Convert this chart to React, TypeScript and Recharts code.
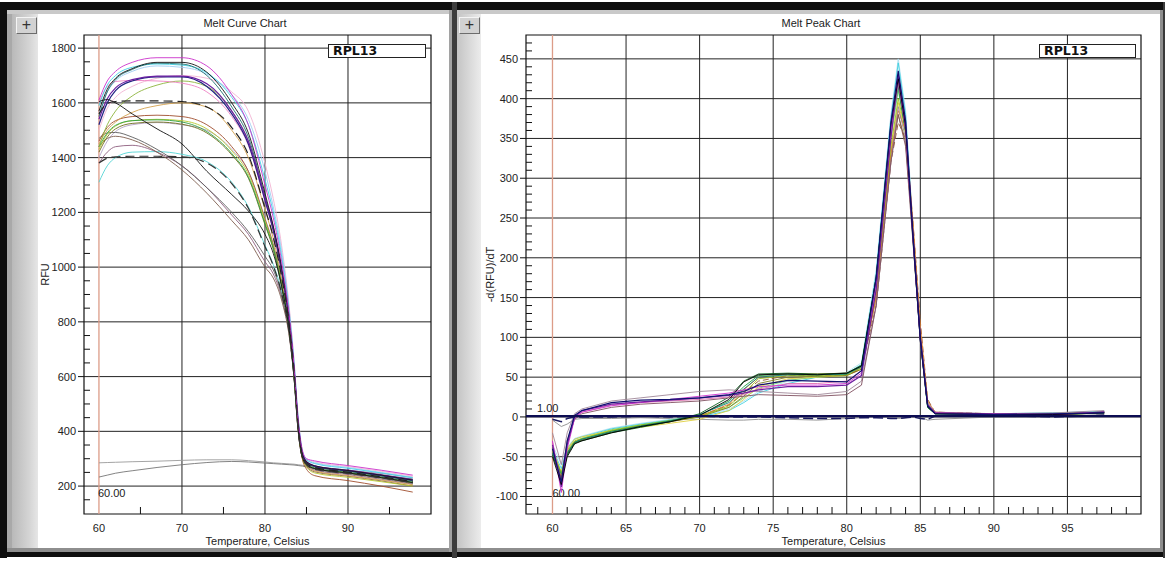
import { LineChart, Line, XAxis, YAxis, CartesianGrid, ReferenceLine, ReferenceArea } from "recharts";

// ---- Melt curve (RFU vs temperature) ----
const MELT_TEMPS = [60, 61, 62, 64, 67, 70, 73, 76, 78, 80, 81, 82, 83, 83.5, 84, 84.5, 85, 86, 90, 94, 97.8];

const meltA01 = [1610, 1680, 1715, 1748, 1765, 1765, 1735, 1630, 1520, 1300, 1180, 1020, 800, 640, 440, 330, 300, 292, 275, 258, 240];
const meltA02 = [1570, 1650, 1690, 1725, 1748, 1748, 1712, 1600, 1490, 1270, 1150, 1000, 790, 630, 430, 322, 290, 274, 257, 240, 222];
const meltA03 = [1550, 1640, 1685, 1722, 1745, 1742, 1700, 1585, 1475, 1255, 1140, 990, 780, 625, 425, 318, 287, 271, 254, 237, 219];
const meltA04 = [1590, 1665, 1700, 1730, 1742, 1738, 1710, 1620, 1520, 1320, 1200, 1040, 810, 650, 445, 328, 296, 282, 265, 248, 230];
const meltA05 = [1560, 1640, 1680, 1715, 1735, 1730, 1705, 1630, 1540, 1350, 1220, 1060, 820, 655, 450, 330, 298, 285, 268, 250, 232];
const meltA06 = [1540, 1615, 1655, 1685, 1698, 1698, 1670, 1570, 1460, 1255, 1145, 995, 785, 628, 428, 320, 289, 274, 258, 241, 224];
const meltA07 = [1520, 1600, 1645, 1680, 1695, 1695, 1660, 1560, 1450, 1245, 1135, 985, 780, 625, 425, 318, 287, 272, 256, 239, 222];
const meltA08 = [1600, 1660, 1678, 1682, 1680, 1672, 1640, 1550, 1445, 1240, 1130, 980, 775, 622, 422, 316, 286, 272, 255, 238, 220];
const meltA09 = [1440, 1520, 1570, 1625, 1665, 1680, 1660, 1570, 1460, 1250, 1140, 990, 780, 625, 425, 317, 286, 270, 253, 236, 218];
const meltA10 = [1560, 1598, 1605, 1607, 1607, 1605, 1585, 1510, 1410, 1215, 1110, 965, 770, 618, 420, 314, 284, 268, 251, 234, 216];
const meltA11 = [1450, 1500, 1530, 1565, 1590, 1600, 1585, 1500, 1400, 1210, 1105, 960, 765, 615, 418, 310, 276, 255, 238, 222, 205];
const meltA12 = [1460, 1510, 1535, 1550, 1555, 1550, 1520, 1440, 1350, 1175, 1080, 945, 760, 612, 410, 300, 262, 238, 220, 200, 178];
const meltA13 = [1430, 1485, 1515, 1535, 1540, 1535, 1505, 1425, 1340, 1170, 1075, 940, 755, 610, 412, 304, 270, 248, 232, 216, 200];
const meltA14 = [1440, 1490, 1518, 1535, 1538, 1530, 1495, 1415, 1330, 1160, 1070, 935, 752, 608, 414, 312, 283, 266, 250, 233, 214];
const meltA15 = [1420, 1475, 1505, 1525, 1530, 1522, 1490, 1410, 1325, 1155, 1065, 930, 750, 606, 410, 308, 280, 264, 248, 231, 212];
const meltA16 = [1400, 1460, 1495, 1520, 1528, 1520, 1500, 1430, 1350, 1180, 1085, 950, 762, 614, 416, 312, 283, 268, 251, 234, 216];
const meltA17 = [1605, 1612, 1600, 1560, 1505, 1450, 1350, 1265, 1205, 1120, 1050, 930, 750, 605, 408, 306, 279, 264, 248, 231, 213];
const meltA18 = [1470, 1490, 1492, 1475, 1430, 1370, 1290, 1200, 1130, 1040, 990, 900, 740, 600, 405, 305, 278, 262, 246, 229, 210];
const meltA19 = [1440, 1470, 1478, 1465, 1420, 1355, 1270, 1170, 1100, 1000, 960, 880, 730, 595, 400, 302, 272, 252, 236, 219, 200];
const meltA20 = [1380, 1420, 1440, 1445, 1420, 1370, 1290, 1190, 1120, 1020, 975, 890, 735, 598, 402, 303, 275, 258, 242, 225, 207];
const meltA21 = [1310, 1370, 1400, 1420, 1422, 1412, 1385, 1310, 1220, 1080, 1010, 910, 745, 602, 405, 306, 280, 266, 250, 234, 217];
const meltA22 = [1380, 1398, 1403, 1405, 1405, 1403, 1380, 1305, 1215, 1075, 1005, 905, 742, 600, 404, 304, 278, 262, 246, 230, 212];
const meltA23 = [1500, 1580, 1620, 1660, 1690, 1700, 1690, 1640, 1570, 1380, 1250, 1080, 830, 660, 455, 334, 300, 288, 271, 254, 236];
const meltNtc1 = [285, 286, 287, 289, 291, 294, 296, 296, 293, 288, 285, 283, 281, 280, 278, 276, 274, 270, 258, 246, 232];
const meltNtc2 = [233, 240, 247, 256, 268, 278, 286, 290, 288, 284, 282, 280, 278, 277, 275, 273, 270, 265, 252, 240, 226];

// ---- Melt peak (-dRFU/dT vs temperature) ----
const PEAK_TEMPS = [60, 60.6, 61, 61.5, 62, 64, 66, 68, 70, 72, 73, 74, 76, 78, 80, 81, 82, 83, 83.5, 84, 84.5, 85, 85.5, 86, 90, 94, 97.5];

const peakA01 = [-30, -95, -40, -2, 6, 14, 18, 22, 26, 30, 34, 38, 40, 40, 42, 55, 170, 360, 425, 360, 225, 95, 14, 5, 3, 3, 6];
const peakA02 = [-35, -88, -35, 0, 8, 16, 19, 21, 24, 27, 30, 34, 38, 38, 40, 52, 160, 350, 430, 370, 230, 100, 15, 5, 4, 3, 6];
const peakA03 = [-40, -82, -30, 2, 8, 18, 21, 22, 24, 28, 32, 40, 46, 45, 44, 58, 175, 370, 435, 372, 228, 98, 14, 4, 3, 4, 5];
const peakA04 = [-20, -60, -20, 4, 10, 20, 24, 28, 32, 34, 33, 32, 30, 28, 32, 45, 140, 320, 390, 350, 225, 100, 18, 6, 4, 5, 8];
const peakA05 = [-38, -78, -30, -3, 4, 12, 16, 18, 20, 24, 26, 28, 27, 26, 28, 40, 140, 320, 380, 340, 220, 100, 16, 5, 3, 3, 6];
const peakA06 = [-32, -85, -35, -1, 6, 15, 18, 20, 22, 25, 28, 35, 42, 42, 45, 58, 165, 355, 420, 365, 230, 100, 15, 5, 4, 4, 6];
const peakA07 = [-45, -72, -45, -32, -28, -18, -11, -5, 2, 20, 38, 52, 54, 53, 54, 64, 170, 360, 415, 358, 222, 96, 12, 4, 3, 3, 5];
const peakA08 = [-48, -78, -48, -33, -30, -20, -13, -6, 4, 25, 45, 54, 55, 54, 55, 65, 175, 365, 420, 360, 225, 95, 12, 4, 3, 4, 6];
const peakA09 = [-42, -70, -42, -30, -27, -17, -10, -5, 0, 14, 30, 48, 52, 52, 53, 62, 160, 340, 400, 360, 228, 100, 14, 5, 3, 3, 5];
const peakA10 = [-40, -65, -40, -28, -25, -15, -9, -4, 0, 8, 18, 30, 42, 50, 54, 66, 180, 375, 445, 380, 235, 102, 14, 5, 4, 5, 7];
const peakA11 = [-35, -60, -38, -27, -24, -14, -8, -3, 1, 10, 20, 32, 45, 52, 56, 68, 185, 380, 450, 385, 240, 104, 15, 5, 4, 5, 7];
const peakA12 = [-46, -80, -46, -32, -28, -19, -12, -5, 3, 18, 35, 50, 53, 53, 54, 63, 172, 362, 418, 360, 224, 96, 12, 4, 3, 3, 5];
const peakA13 = [-50, -85, -50, -34, -30, -20, -12, -6, 2, 22, 44, 53, 54, 53, 55, 64, 175, 368, 425, 365, 228, 98, 13, 4, 3, 3, 5];
const peakA14 = [-44, -75, -44, -31, -28, -18, -11, -5, 1, 16, 34, 50, 54, 54, 55, 62, 150, 330, 385, 360, 245, 115, 20, 6, 3, 3, 5];
const peakA15 = [-47, -80, -47, -33, -29, -19, -12, -6, 1, 15, 30, 45, 52, 52, 53, 60, 140, 320, 370, 350, 245, 120, 22, 6, 4, 4, 6];
const peakA16 = [-40, -70, -40, -28, -25, -17, -13, -8, -3, 8, 22, 38, 48, 50, 52, 60, 155, 335, 395, 355, 235, 105, 16, 5, 3, 3, 5];
const peakA17 = [-46, -76, -46, -32, -29, -19, -12, -6, 0, 12, 26, 42, 50, 51, 52, 60, 150, 330, 380, 345, 230, 105, 16, 5, 3, 4, 6];
const peakA18 = [-44, -70, -44, -31, -27, -16, -10, -4, 2, 12, 24, 36, 46, 50, 52, 62, 165, 350, 410, 360, 228, 100, 14, 5, 4, 4, 6];
const peakNtc1 = [-3, -6, -2, 0, 0, 0, 1, 0, 1, 0, 0, 0, -1, -2, -2, -1, -1, -2, -2, -1, 0, -2, -3, 1, 2, 0, 2];
const peakNtc2 = [-4, -12, -9, -3, -2, -2, -1, -2, -3, -4, -4, -3, -3, -4, -2, -1, 0, -1, -2, -1, 0, 0, -4, -3, 0, 1, 3];

// ---- axis ticks ----
const MELT_X_MAJOR = [60, 70, 80, 90];
const MELT_X_TICKS = [60, 65, 70, 75, 80, 85, 90, 95];
const MELT_Y_MAJOR = [200, 400, 600, 800, 1000, 1200, 1400, 1600, 1800];
const MELT_Y_TICKS = Array.from({ length: 34 }, (_, i) => 150 + i * 50);

const PEAK_X_MAJOR = [60, 65, 70, 75, 80, 85, 90, 95];
const PEAK_X_TICKS = Array.from({ length: 41 }, (_, i) => 59 + i);
const PEAK_Y_MAJOR = [-100, -50, 0, 50, 100, 150, 200, 250, 300, 350, 400, 450];
const PEAK_Y_TICKS = Array.from({ length: 59 }, (_, i) => -110 + i * 10);

type Well = { key: string; color: string; values: number[]; dash?: string; width?: number };

const meltWells: Well[] = [
  { key: "ntc1", color: "#9a9a9a", values: meltNtc1 },
  { key: "ntc2", color: "#767676", values: meltNtc2 },
  { key: "a23", color: "#f2b3d3", values: meltA23 },
  { key: "a05", color: "#9fcdf2", values: meltA05 },
  { key: "a16", color: "#b3a3c6", values: meltA16 },
  { key: "a21", color: "#55d5d5", values: meltA21 },
  { key: "a20", color: "#8f5f7f", values: meltA20 },
  { key: "a19", color: "#7f5f4f", values: meltA19 },
  { key: "a18", color: "#5f5f5f", values: meltA18 },
  { key: "a12", color: "#a04e2e", values: meltA12 },
  { key: "a13", color: "#b9c92f", values: meltA13 },
  { key: "a11", color: "#d4a24e", values: meltA11 },
  { key: "a15", color: "#6e6e1e", values: meltA15 },
  { key: "a14", color: "#2f9f42", values: meltA14 },
  { key: "a09", color: "#8db43c", values: meltA09 },
  { key: "a08", color: "#ee82c4", values: meltA08 },
  { key: "a04", color: "#3fd3e6", values: meltA04 },
  { key: "a03", color: "#1f6f6f", values: meltA03 },
  { key: "a07", color: "#232383", values: meltA07, width: 1.2 },
  { key: "a06", color: "#6b1fa3", values: meltA06, width: 1.2 },
  { key: "a17", color: "#111111", values: meltA17, width: 0.9 },
  { key: "a02", color: "#151515", values: meltA02 },
  { key: "a01", color: "#cc33cc", values: meltA01 },
  { key: "a10", color: "#222222", values: meltA10, dash: "9 5", width: 1.2 },
  { key: "a22", color: "#333333", values: meltA22, dash: "9 5", width: 1.2 },
];

const peakWells: Well[] = [
  { key: "ntc2", color: "#8c8c8c", values: peakNtc2 },
  { key: "a11", color: "#b0e0f0", values: peakA11 },
  { key: "a10", color: "#40d0e0", values: peakA10 },
  { key: "a18", color: "#70d070", values: peakA18 },
  { key: "a16", color: "#e0d040", values: peakA16 },
  { key: "a17", color: "#808020", values: peakA17 },
  { key: "a15", color: "#905030", values: peakA15, dash: "6 3" },
  { key: "a14", color: "#e08030", values: peakA14 },
  { key: "a09", color: "#a0c020", values: peakA09 },
  { key: "a07", color: "#20a040", values: peakA07 },
  { key: "a12", color: "#108080", values: peakA12 },
  { key: "a08", color: "#106020", values: peakA08 },
  { key: "a04", color: "#a08898", values: peakA04 },
  { key: "a05", color: "#805060", values: peakA05 },
  { key: "a06", color: "#e070b0", values: peakA06 },
  { key: "a01", color: "#d030d0", values: peakA01 },
  { key: "a02", color: "#7020a0", values: peakA02, width: 1.2 },
  { key: "a13", color: "#000000", values: peakA13 },
  { key: "a03", color: "#101070", values: peakA03, width: 1.2 },
  { key: "ntc1", color: "#1a1a60", values: peakNtc1, dash: "10 4", width: 1.5 },
];

function buildRows(temps: number[], wells: Well[]) {
  return temps.map((t, i) => {
    const row: Record<string, number> = { temp: t };
    wells.forEach((w) => {
      row[w.key] = w.values[i];
    });
    return row;
  });
}

const meltRows = buildRows(MELT_TEMPS, meltWells);
const peakRows = buildRows(PEAK_TEMPS, peakWells);

const FONT = '"Liberation Sans", Arial, sans-serif';
const TEXT = "#222";

// ticks: majors get a label, minors a short inner tick
const xTick = (majors: number[]) => (props: any) => {
  const { x, y, payload } = props;
  const v = payload.value;
  if (majors.includes(v)) {
    return (
      <text x={x} y={y + 18} textAnchor="middle" fontSize={11} fill={TEXT}>
        {v}
      </text>
    );
  }
  return <line x1={x} y1={y} x2={x} y2={y - 7} stroke="#111" />;
};

const yTick = (majors: number[]) => (props: any) => {
  const { x, y, payload } = props;
  const v = payload.value;
  if (majors.includes(v)) {
    return (
      <g>
        <line x1={x - 6} y1={y} x2={x} y2={y} stroke="#111" />
        <text x={x - 8} y={y + 4} textAnchor="end" fontSize={11} fill={TEXT}>
          {v}
        </text>
      </g>
    );
  }
  return <line x1={x} y1={y} x2={x + 6} y2={y} stroke="#111" />;
};

const thresholdLabel = (text: string, dx: number) => (p: any) => {
  const vb = p.viewBox || {};
  return (
    <text x={vb.x + dx} y={vb.y + vb.height - 17} fontSize={11} fill={TEXT}>
      {text}
    </text>
  );
};

const baselineLabel = (p: any) => {
  const vb = p.viewBox || {};
  return (
    <text x={vb.x + 11} y={vb.y - 4} fontSize={11} fill={TEXT}>
      1.00
    </text>
  );
};

function PlusButton({ left }: { left: number }) {
  return (
    <div
      style={{
        position: "absolute",
        left,
        top: 17,
        width: 19,
        height: 15,
        background: "#d2d2d2",
        borderTop: "1px solid #f4f4f4",
        borderLeft: "1px solid #f4f4f4",
        borderRight: "1px solid #6c6c6c",
        borderBottom: "1px solid #6c6c6c",
        fontSize: 16,
        lineHeight: "14px",
        textAlign: "center",
        color: "#333",
        fontFamily: FONT,
      }}
    >
      +
    </div>
  );
}

function TargetBox({ left, top, width }: { left: number; top: number; width: number }) {
  return (
    <div
      style={{
        position: "absolute",
        left,
        top,
        width,
        height: 12,
        border: "1.5px solid #222",
        background: "#fff",
        fontFamily: '"DejaVu Sans", Verdana, sans-serif',
        fontWeight: "bold",
        fontSize: 12.5,
        lineHeight: "12px",
        paddingLeft: 4,
        color: "#111",
        zIndex: 3,
      }}
    >
      RPL13
    </div>
  );
}

function Title({ center, text }: { center: number; text: string }) {
  return (
    <div
      style={{
        position: "absolute",
        left: center - 60,
        top: 17,
        width: 120,
        textAlign: "center",
        fontSize: 11,
        color: TEXT,
      }}
    >
      {text}
    </div>
  );
}

export default function App() {
  const box = (s: React.CSSProperties): React.CSSProperties => ({ position: "absolute", ...s });
  return (
    <div
      style={{
        position: "absolute",
        left: 0,
        top: 0,
        width: 1168,
        height: 562,
        background: "#fff",
        overflow: "hidden",
        fontFamily: FONT,
      }}
    >
      {/* window frame */}
      <div style={box({ left: 0, top: 2, width: 1164, height: 8, background: "#0e0e0e" })} />
      <div style={box({ left: 0, top: 2, width: 7, height: 556, background: "#0e0e0e" })} />
      <div style={box({ left: 0, top: 552, width: 1164, height: 5, background: "#0e0e0e" })} />
      <div style={box({ left: 7, top: 10, width: 1156, height: 4, background: "#c9c9c9" })} />
      <div style={box({ left: 7, top: 548, width: 1156, height: 4, background: "#8e8e8e" })} />
      <div style={box({ left: 1160, top: 10, width: 3, height: 542, background: "#8e8e8e" })} />
      <div style={box({ left: 1163, top: 2, width: 2, height: 556, background: "#3a3a3a" })} />

      {/* left panel strip */}
      <div style={box({ left: 7, top: 14, width: 5, height: 534, background: "#a9a9a9" })} />
      <div
        style={box({
          left: 12,
          top: 14,
          width: 26,
          height: 534,
          background: "linear-gradient(to right, #b9b9b9, #d6d6d6 70%, #e6e6e6)",
        })}
      />
      {/* panel separator */}
      <div style={box({ left: 449, top: 10, width: 3, height: 542, background: "#a2a2a2" })} />
      <div style={box({ left: 452, top: 2, width: 5, height: 556, background: "#3c3c3c" })} />
      {/* right panel strip */}
      <div
        style={box({
          left: 457,
          top: 14,
          width: 24,
          height: 534,
          background: "linear-gradient(to right, #c4c4c4, #dcdcdc 60%, #ececec)",
        })}
      />

      <PlusButton left={16} />
      <PlusButton left={459} />
      <Title center={245} text="Melt Curve Chart" />
      <Title center={821} text="Melt Peak Chart" />

      {/* Melt curve chart */}
      <div style={box({ left: 0, top: 0, width: 452, height: 552, zIndex: 2 })}>
        <LineChart width={452} height={552} data={meltRows} margin={{ top: 35, right: 21, bottom: 0, left: 0 }}>
          <CartesianGrid
            stroke="#222"
            horizontalValues={MELT_Y_MAJOR}
            verticalValues={[70, 80, 90]}
          />
          <XAxis
            dataKey="temp"
            type="number"
            domain={[58.2, 100]}
            allowDataOverflow
            ticks={MELT_X_TICKS}
            interval={0}
            tickSize={0}
            tickMargin={0}
            axisLine={false}
            tickLine={false}
            height={38}
            tick={xTick(MELT_X_MAJOR)}
            label={{ value: "Temperature, Celsius", position: "insideBottom", offset: 7, fontSize: 11, fill: TEXT }}
          />
          <YAxis
            type="number"
            domain={[98, 1848]}
            allowDataOverflow
            ticks={MELT_Y_TICKS}
            interval={0}
            tickSize={0}
            tickMargin={0}
            axisLine={false}
            tickLine={false}
            width={84}
            tick={yTick(MELT_Y_MAJOR)}
            label={{
              value: "RFU",
              angle: -90,
              position: "insideLeft",
              offset: 45,
              fontSize: 11,
              fill: TEXT,
              style: { textAnchor: "middle" },
            }}
          />
          <ReferenceArea x1={58.2} x2={100} y1={98} y2={1848} fill="none" fillOpacity={0} stroke="#111" strokeWidth={1.2} />
          <ReferenceLine x={60} stroke="#dc9c88" strokeWidth={1.3} label={{ content: thresholdLabel("60.00", -1) }} />
          {meltWells.map((w) => (
            <Line
              key={w.key}
              type="monotone"
              dataKey={w.key}
              stroke={w.color}
              strokeWidth={w.width ?? 0.9}
              strokeDasharray={w.dash}
              dot={false}
              activeDot={false}
              isAnimationActive={false}
            />
          ))}
        </LineChart>
      </div>

      {/* Melt peak chart */}
      <div style={box({ left: 455, top: 0, width: 708, height: 552, zIndex: 2 })}>
        <LineChart width={708} height={552} data={peakRows} margin={{ top: 35, right: 22, bottom: 0, left: 0 }}>
          <CartesianGrid
            stroke="#222"
            horizontalValues={PEAK_Y_MAJOR}
            verticalValues={[65, 70, 75, 80, 85, 90, 95]}
          />
          <XAxis
            dataKey="temp"
            type="number"
            domain={[58.2, 100]}
            allowDataOverflow
            ticks={PEAK_X_TICKS}
            interval={0}
            tickSize={0}
            tickMargin={0}
            axisLine={false}
            tickLine={false}
            height={38}
            tick={xTick(PEAK_X_MAJOR)}
            label={{ value: "Temperature, Celsius", position: "insideBottom", offset: 7, fontSize: 11, fill: TEXT }}
          />
          <YAxis
            type="number"
            domain={[-122, 480]}
            allowDataOverflow
            ticks={PEAK_Y_TICKS}
            interval={0}
            tickSize={0}
            tickMargin={0}
            axisLine={false}
            tickLine={false}
            width={71}
            tick={yTick(PEAK_Y_MAJOR)}
            label={{
              value: "-d(RFU)/dT",
              angle: -90,
              position: "insideLeft",
              offset: 35,
              fontSize: 11,
              fill: TEXT,
              style: { textAnchor: "middle" },
            }}
          />
          <ReferenceArea x1={58.2} x2={100} y1={-122} y2={480} fill="none" fillOpacity={0} stroke="#111" strokeWidth={1.2} />
          <ReferenceLine x={60} stroke="#dc9c88" strokeWidth={1.3} label={{ content: thresholdLabel("60.00", 0) }} />
          {peakWells.map((w) => (
            <Line
              key={w.key}
              type="linear"
              dataKey={w.key}
              stroke={w.color}
              strokeWidth={w.width ?? 0.9}
              strokeDasharray={w.dash}
              dot={false}
              activeDot={false}
              isAnimationActive={false}
            />
          ))}
          <ReferenceLine y={1} stroke="#0c0c52" strokeWidth={2.2} label={{ content: baselineLabel }} />
        </LineChart>
      </div>

      <TargetBox left={328} top={44} width={92} />
      <TargetBox left={1039} top={44} width={91} />
    </div>
  );
}
